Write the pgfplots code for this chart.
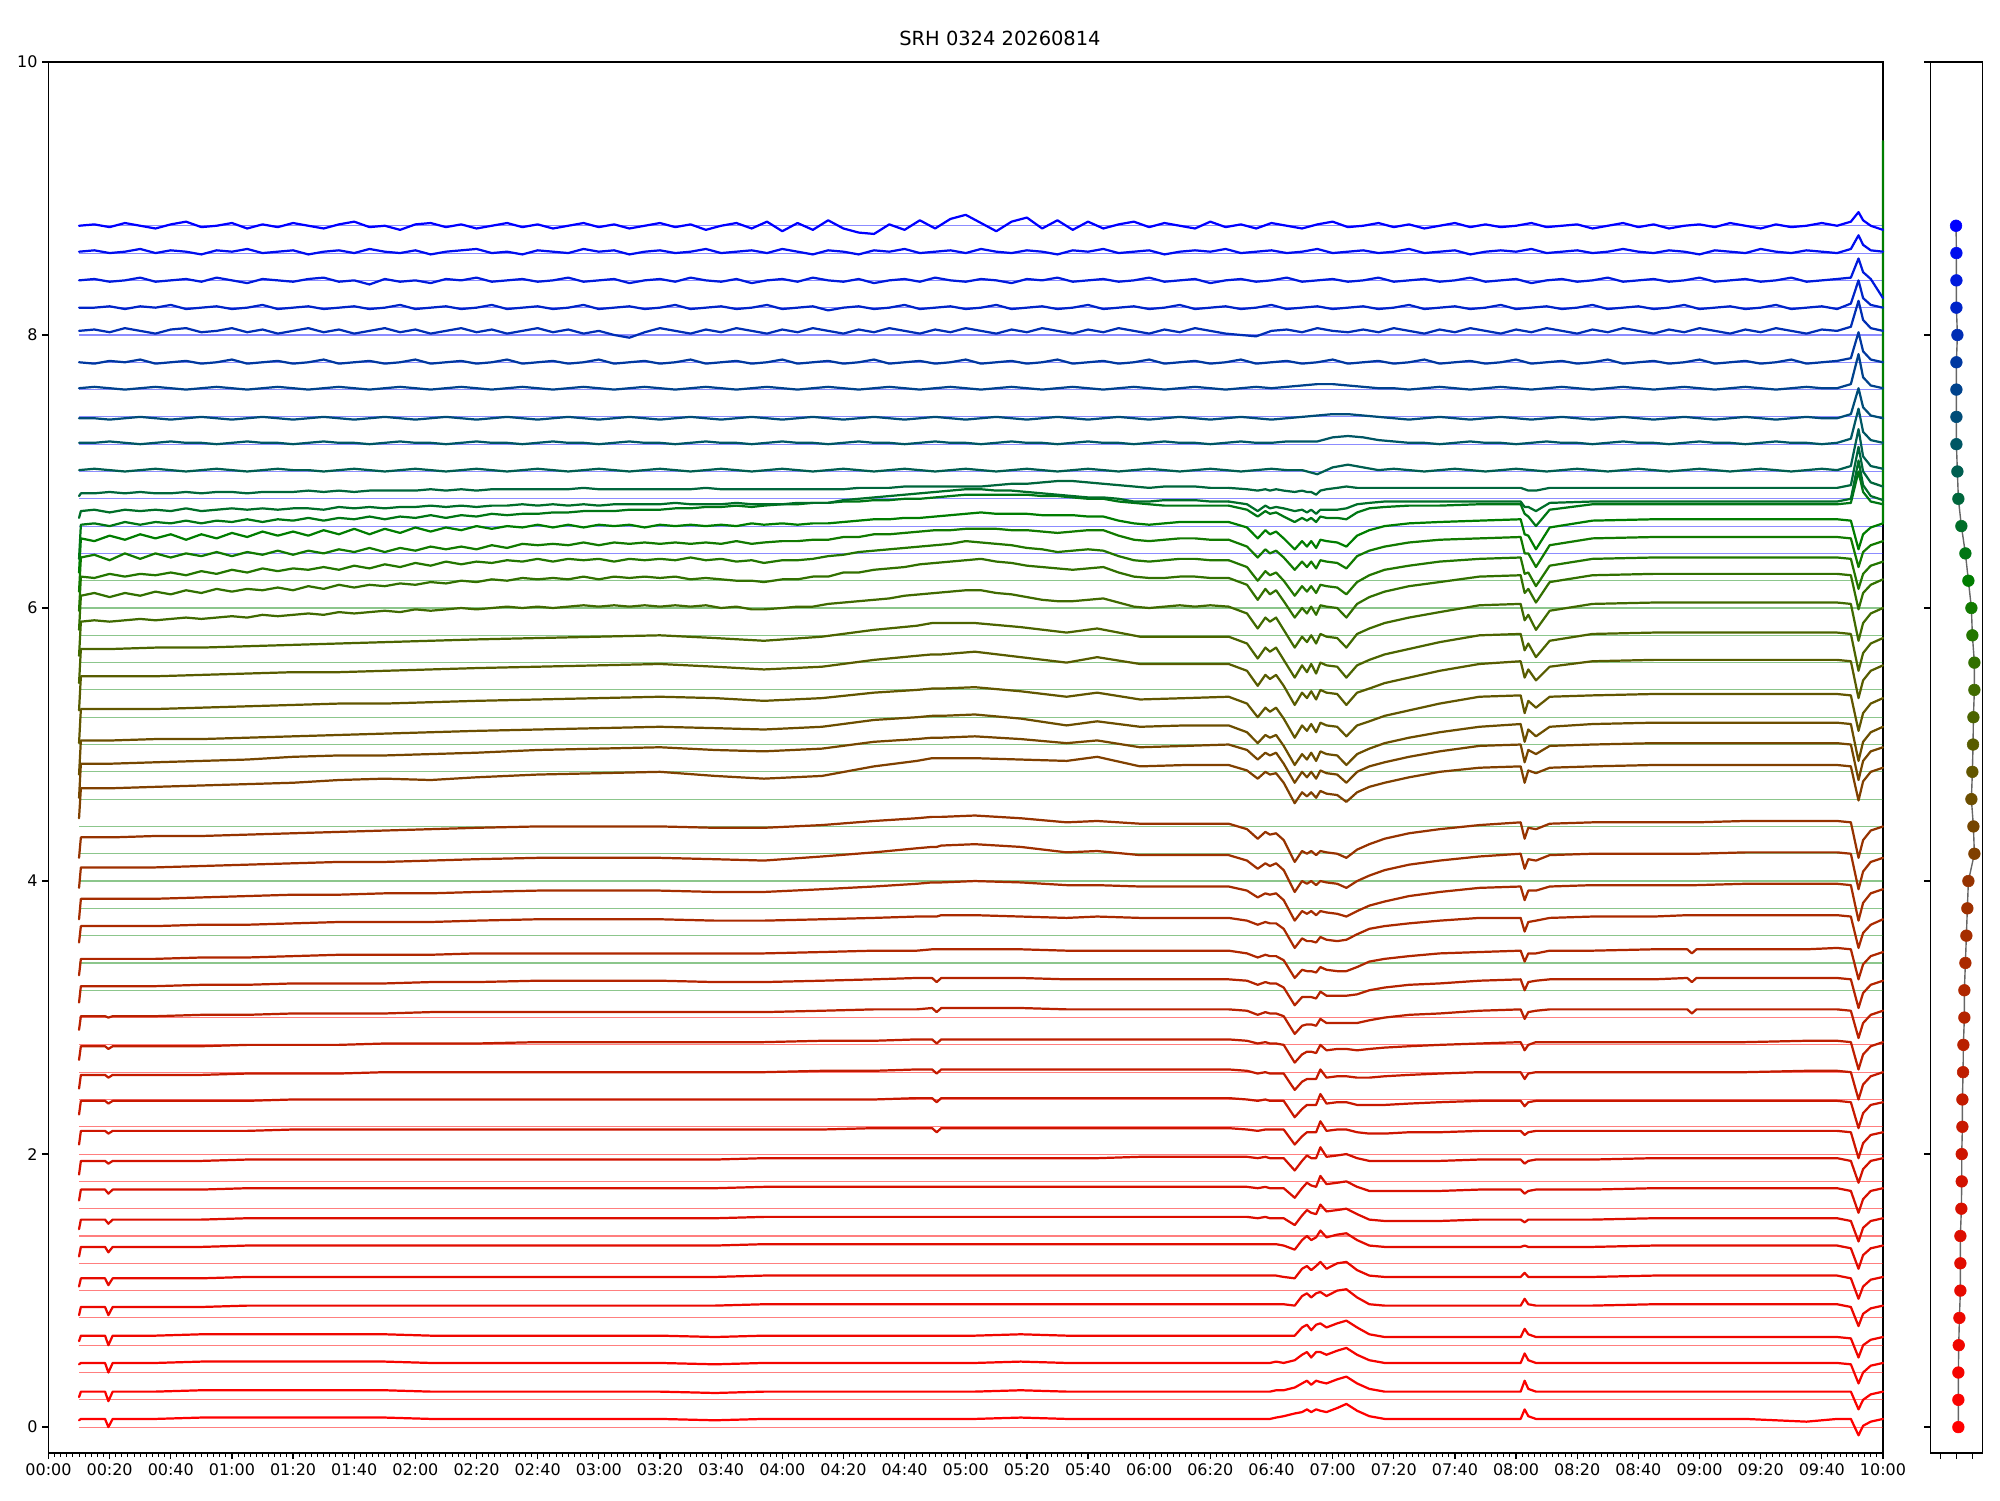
\documentclass[border=0pt]{standalone}
\usepackage{fontspec}
\setmainfont{DejaVu Sans}
\usepackage{pgfplots}
\usepackage{pgfplotstable}
\pgfplotsset{compat=1.18}
\definecolor{c0}{RGB}{255,0,0}\definecolor{c1}{RGB}{250,2,0}\definecolor{c2}{RGB}{245,4,0}
\definecolor{c3}{RGB}{240,6,0}\definecolor{c4}{RGB}{235,8,0}\definecolor{c5}{RGB}{230,10,0}
\definecolor{c6}{RGB}{225,12,0}\definecolor{c7}{RGB}{220,14,0}\definecolor{c8}{RGB}{215,16,0}
\definecolor{c9}{RGB}{210,18,0}\definecolor{c10}{RGB}{205,21,0}\definecolor{c11}{RGB}{200,24,0}
\definecolor{c12}{RGB}{195,27,0}\definecolor{c13}{RGB}{190,30,0}\definecolor{c14}{RGB}{185,33,0}
\definecolor{c15}{RGB}{180,36,0}\definecolor{c16}{RGB}{175,39,0}\definecolor{c17}{RGB}{170,42,0}
\definecolor{c18}{RGB}{165,45,0}\definecolor{c19}{RGB}{158,48,0}\definecolor{c20}{RGB}{150,51,0}
\definecolor{c21}{RGB}{128,64,0}\definecolor{c22}{RGB}{118,70,0}\definecolor{c23}{RGB}{108,78,0}
\definecolor{c24}{RGB}{98,86,0}\definecolor{c25}{RGB}{88,92,0}\definecolor{c26}{RGB}{76,100,0}
\definecolor{c27}{RGB}{64,106,0}\definecolor{c28}{RGB}{50,112,0}\definecolor{c29}{RGB}{35,118,0}
\definecolor{c30}{RGB}{18,122,0}\definecolor{c31}{RGB}{0,125,0}\definecolor{c32}{RGB}{0,118,20}
\definecolor{c33}{RGB}{0,110,40}\definecolor{c34}{RGB}{0,102,60}\definecolor{c35}{RGB}{0,94,80}
\definecolor{c36}{RGB}{0,86,100}\definecolor{c37}{RGB}{0,76,120}\definecolor{c38}{RGB}{0,66,140}
\definecolor{c39}{RGB}{0,56,160}\definecolor{c40}{RGB}{0,46,180}\definecolor{c41}{RGB}{0,36,200}
\definecolor{c42}{RGB}{0,26,220}\definecolor{c43}{RGB}{0,14,238}\definecolor{c44}{RGB}{0,0,255}
\definecolor{bgreen}{RGB}{0,128,0}

% offsets (hundredths) of each trace from its starting value
\pgfplotstableread{
t c0 c1 c2 c3 c4 c5 c6 c7 c8 c9 c10 c11 c12 c13 c14 c15 c16 c17 c18 c19 c20 c21 c22 c23 c24 c25 c26 c27 c28 c29 c30 c31 c32 c33 c34
10 -1 -4 -1 -4 -6 -6 -7 -7 -8 -10 -10 -10 -10 -10 -10 -12 -12 -12 -15 -15 -15 -22 -25 -25 -25 -25 -25 -25 -25 -25 -25 -25 -25 -5 -2
10.6 0 0 0 0 0 0 0 0 0 0 0 0 0 0 0 0 0 0 0 0 0 0 0 0 0 0 0 0 0 0 0 0 0 0 0
18.5 0 0 0 0 0 0 0 0 0 0 0 0 0 0 0 0 0 0 0 0 0 0 0 0 0 0 0 0 1 1 1 1 0 0 0
19.6 -6 -7 -7 -7 -6 -5 -4 -3 -3 -2 -2 -2 -2 -2 -1 0 0 0 0 0 0 0 0 0 0 0 0 0 0 -1 0 0 0 0 0
21 0 0 0 0 0 0 0 0 0 0 0 0 0 0 0 0 0 0 0 0 0 0 0 0 0 0 0 0 -1 0 -1 0 1 0 0
35 0 0 0 0 0 0 0 0 0 0 0 0 0 0 0 0 0 0 0 0 1 1 1 1 0 0 1 2 2 1 2 1 1 1 0
50 1 1 1 1 0 0 0 0 0 0 0 0 0 0 1 1 1 1 1 1 1 2 2 1 1 1 1 1 1 3 1 2 2 0 1
65 1 1 1 1 1 1 1 1 1 1 0 0 1 1 1 1 1 1 2 2 2 3 3 2 2 2 2 4 4 2 3 1 3 2 0
80 1 1 1 1 1 1 1 1 1 1 1 1 1 1 2 2 2 2 3 3 3 4 5 3 3 3 3 3 3 5 2 3 2 1 1
95 1 1 1 1 1 1 1 1 1 1 1 1 1 1 2 2 3 3 3 4 4 6 6 4 4 3 4 6 6 4 4 4 4 2 2
110 1 1 1 1 1 1 1 1 1 1 1 1 2 2 2 2 3 3 4 4 5 7 6 5 4 4 5 5 8 7 6 3 5 3 1
125 0 0 0 0 1 1 1 1 1 1 1 1 2 2 3 3 3 3 4 5 6 6 7 6 5 5 6 8 7 9 5 6 4 2 2
140 0 0 0 0 1 1 1 1 1 1 1 1 2 2 3 3 4 4 5 6 7 8 8 7 6 6 7 7 10 8 7 7 7 3 2
160 0 0 0 0 1 1 1 1 1 1 1 1 2 3 3 4 4 5 6 7 8 10 10 8 7 7 8 10 12 12 9 9 8 4 3
180 0 0 0 0 1 1 1 1 1 1 1 1 2 3 3 4 4 5 6 7 8 11 11 9 8 8 9 11 12 13 10 9 10 4 3
200 0 0 0 0 1 1 1 1 1 1 1 1 2 3 3 4 4 5 6 7 8 12 12 10 9 9 10 10 14 12 11 10 11 5 3
218 -1 -1 -1 -1 1 1 1 1 1 1 1 1 2 3 3 3 4 4 5 6 7 9 10 9 8 7 8 12 12 14 9 8 12 4 3
234 0 0 0 0 2 2 2 2 2 2 1 1 2 3 3 3 4 4 5 5 7 7 9 8 6 5 6 9 10 10 11 10 14 5 3
253 0 0 0 0 2 2 2 2 2 2 1 1 3 4 4 4 5 5 7 8 9 9 11 10 8 7 9 12 14 14 13 11 16 6 3
270 0 0 0 0 2 2 2 2 2 2 2 1 3 4 5 5 6 6 9 11 12 16 16 15 12 12 14 16 19 19 17 14 18 10 4
284 0 0 0 0 2 2 2 2 2 2 2 2 4 5 5 6 6 7 11 14 14 20 18 17 14 15 17 20 22 22 19 15 19 13 5
289 0 0 0 0 2 2 2 2 2 2 2 2 4 5 6 6 7 7 12 15 15 22 19 18 15 16 19 21 24 23 20 16 20 14 5
290.5 0 0 0 0 2 2 2 2 2 2 -1 -1 1 2 3 3 7 7 12 15 15 22 19 18 15 16 19 21 24 23 20 16 20 14 5
292 0 0 0 0 2 2 2 2 2 2 2 2 4 5 6 6 7 8 12 16 15 22 19 18 15 16 19 22 25 24 21 17 21 15 5
303 0 0 0 0 2 2 2 2 2 2 2 2 4 5 6 6 7 8 13 17 16 22 20 19 16 18 19 23 27 26 21 19 22 16 5
318 1 1 1 1 2 2 2 2 2 2 2 2 4 5 6 6 7 7 12 15 14 21 18 16 13 14 16 19 23 22 20 18 22 15 7
333 0 0 0 0 2 2 2 2 2 2 2 2 4 5 5 5 6 6 10 11 11 20 15 11 9 10 12 14 19 18 18 17 21 12 9
343 0 0 0 0 2 2 2 2 2 2 2 2 4 5 5 5 6 7 10 12 12 23 17 14 12 14 15 17 21 20 20 16 19 10 7
357 0 0 0 0 2 2 2 2 2 3 2 2 4 5 5 5 6 6 9 9 10 16 12 10 7 9 9 10 13 11 12 10 15 7 4
372 0 0 0 0 2 2 2 2 2 3 2 2 4 5 5 5 6 6 9 9 10 17 13 11 8 9 9 12 14 13 14 12 14 8 5
386 0 0 0 0 2 2 2 2 2 3 2 2 4 5 5 5 6 6 9 9 10 17 14 11 9 9 9 11 13 12 13 12 14 7 4
392 0 0 0 0 2 2 2 2 2 3 1 1 3 4 4 4 4 4 6 5 6 13 10 6 4 4 4 6 8 7 8 8 11 5 3
395.5 0 0 0 0 2 2 2 1 1 2 0 0 1 2 1 1 1 1 1 -1 -1 7 3 -2 -6 -7 -7 -5 -3 -3 0 0 6 0 2
398 0 0 0 0 2 2 2 2 2 3 1 1 2 3 3 3 3 3 4 3 4 12 8 4 1 1 1 3 5 4 6 6 10 4 3
399.5 0 0 0 0 2 2 2 1 1 2 1 0 1 2 2 2 2 2 3 1 2 10 6 2 -2 -2 -2 0 1 1 3 3 8 2 2
401.5 1 1 1 0 2 2 2 1 1 2 1 0 1 2 2 2 2 2 4 3 3 11 8 4 1 1 1 3 4 3 5 5 9 3 3
404 2 1 0 0 2 1 1 1 1 2 1 0 1 1 0 -1 -1 -2 -1 -2 -2 4 0 -4 -7 -7 -8 -6 -4 -3 0 0 6 2 2
407.6 4 3 2 0 1 0 -2 -4 -6 -7 -10 -12 -11 -12 -13 -14 -14 -16 -16 -18 -18 -11 -14 -18 -21 -21 -21 -19 -16 -14 -9 -8 2 0 1
410 5 6 6 6 8 7 5 3 1 0 -4 -6 -5 -6 -7 -8 -8 -9 -9 -10 -10 -3 -6 -10 -12 -12 -12 -11 -9 -7 -3 -2 5 1 2
411.6 7 8 8 8 10 9 8 7 5 4 -1 -3 -3 -4 -6 -8 -9 -11 -11 -12 -12 -6 -10 -14 -16 -16 -17 -15 -13 -11 -7 -6 3 -1 1
413 5 5 4 4 7 6 5 5 3 2 -1 -3 -3 -4 -6 -8 -9 -11 -9 -10 -10 -3 -6 -9 -11 -11 -11 -10 -8 -7 -3 -2 5 1 1
414.6 7 8 8 8 10 9 7 4 2 2 -1 -3 -3 -5 -7 -9 -10 -12 -12 -13 -13 -7 -11 -15 -17 -17 -18 -16 -14 -12 -8 -7 2 -2 -1
416 6 7 8 9 11 12 12 11 10 10 7 5 4 1 -2 -4 -6 -8 -9 -10 -10 -2 -5 -8 -10 -10 -10 -9 -7 -6 -2 -1 6 1 2
418 5 6 6 6 8 7 7 6 4 3 0 -2 -2 -3 -5 -7 -8 -10 -10 -11 -11 -4 -7 -10 -12 -12 -12 -11 -8 -7 -3 -2 5 1 3
421.5 8 9 9 9 12 11 9 7 5 4 1 -1 -1 -2 -5 -7 -9 -11 -11 -12 -12 -5 -8 -11 -13 -13 -13 -12 -9 -8 -4 -3 5 1 4
424.5 11 11 11 11 13 12 10 8 6 5 1 -1 -1 -2 -5 -7 -9 -10 -13 -15 -15 -10 -14 -18 -20 -21 -21 -19 -16 -13 -8 -6 4 2 5
428 6 6 6 6 7 6 5 4 2 2 -1 -3 -2 -3 -5 -6 -6 -6 -9 -10 -9 -3 -6 -10 -12 -12 -12 -9 -6 -4 1 2 9 5 4
432 2 2 2 1 2 2 1 0 -1 0 -2 -3 -2 -2 -3 -3 -2 -2 -5 -6 -5 1 -2 -6 -9 -9 -8 -5 -1 1 5 6 12 6 4
437 0 0 0 -1 1 1 0 -1 -1 0 -2 -3 -1 -1 -1 -1 0 0 -2 -2 -1 4 1 -2 -5 -5 -4 -1 3 5 8 9 13 7 4
445 0 0 0 -1 1 1 0 -1 -1 0 -1 -2 0 0 1 1 2 2 2 2 3 8 5 2 -1 -1 0 3 7 8 11 11 14 7 4
455 0 0 0 -1 1 1 0 -1 -1 0 -1 -1 1 1 2 2 4 4 5 5 6 12 9 6 4 4 5 7 10 11 13 12 14 7 4
468 0 0 0 -1 1 1 0 0 0 1 0 0 2 2 4 4 5 6 8 8 9 15 13 10 9 9 10 12 14 13 14 13 15 7 4
481.5 0 0 0 -1 1 1 0 0 0 1 0 0 2 3 5 5 6 6 9 10 11 16 14 12 10 11 11 13 15 14 15 14 15 7 4
482.8 7 8 7 5 6 4 1 -2 -3 -2 -3 -4 -3 -3 -2 -3 -2 -4 -1 -1 -1 4 1 -1 -3 -1 -1 1 2 2 3 3 8 3 3
484 2 2 2 1 2 1 0 0 -1 0 -1 -1 1 1 3 3 4 3 6 6 7 13 10 8 6 5 4 5 5 3 3 2 6 3 2
486.5 0 0 0 -1 1 1 0 0 0 1 0 0 2 3 4 4 4 4 6 5 6 11 7 3 1 -3 -6 -6 -5 -7 -7 -8 -1 0 2
491 0 0 0 -1 1 1 0 0 0 1 0 0 2 3 5 5 6 6 9 9 10 15 13 10 9 7 6 8 10 8 9 8 11 6 4
505 0 0 0 -1 1 1 0 0 0 1 0 0 2 3 5 5 6 7 10 10 11 16 14 12 10 11 11 13 15 13 14 13 15 7 4
525 0 0 0 -1 2 2 1 1 1 2 0 0 2 3 5 5 7 7 10 10 11 17 15 13 11 12 12 14 16 14 15 14 15 7 4
536 0 0 0 -1 2 2 1 1 1 2 0 0 2 3 5 6 7 8 10 10 11 17 15 13 11 12 12 14 16 14 15 14 15 7 4
537.5 0 0 0 -1 2 2 1 1 1 2 0 0 2 3 2 3 4 8 10 10 11 17 15 13 11 12 12 14 16 14 15 14 15 7 4
539 0 0 0 -1 2 2 1 1 1 2 0 0 2 3 5 6 7 8 10 10 11 17 15 13 11 12 12 14 16 14 15 14 15 7 4
555 0 0 0 -1 2 2 1 1 1 2 0 0 2 3 5 6 7 8 11 11 12 17 15 13 11 12 12 14 16 14 15 14 15 7 4
575 -2 0 0 -1 2 2 1 1 1 2 0 0 3 4 5 6 7 8 11 11 12 17 15 13 11 12 12 14 16 14 15 14 15 7 4
585 0 0 0 -1 2 2 1 1 1 2 0 0 3 4 5 6 8 8 11 11 12 17 15 13 11 12 12 14 16 14 15 14 15 7 4
589.5 0 0 -1 -2 0 0 -1 -1 -1 0 -1 -1 2 3 4 5 7 7 10 10 11 16 14 12 10 11 11 13 15 13 14 13 16 9 6
592 -12 -13 -15 -16 -14 -15 -16 -16 -17 -16 -20 -20 -18 -17 -16 -16 -15 -16 -16 -16 -15 -9 -12 -15 -16 -16 -16 -14 -10 -9 -7 -8 39 37 34
593.5 -5 -6 -7 -7 -5 -6 -6 -6 -7 -6 -9 -9 -7 -6 -5 -5 -4 -5 -3 -3 -2 5 2 -1 -3 -3 -3 -1 2 2 4 3 24 19 16
596 -2 -2 -2 -3 -1 -1 -1 -1 -1 0 -3 -3 -1 0 1 1 2 1 4 4 5 12 9 6 4 4 4 6 8 8 9 8 17 11 8
600 0 0 0 -1 1 1 1 1 1 2 -1 -1 2 3 4 4 5 5 7 7 8 15 12 10 8 8 8 10 12 11 12 11 15 8 5
600 0 0 0 -1 1 1 1 1 1 2 -1 -1 2 3 4 4 5 5 7 7 8 15 12 10 8 8 8 10 12 11 12 291 15 8 5
}\Tlow

% finer early part (00:10-06:26) of the wiggly green traces
\pgfplotstableread{
t c27 c28 c29 c30 c31 c32 c33 c34
10 -25 -25 -25 -25 -25 -25 -5 -2
10.6 0 0 0 0 0 0 0 0
15 1 2 -1 2 -2 1 1 0
20 0 -1 2 -2 2 -1 -1 1
25 1 2 0 3 -1 2 1 0
30 2 0 2 -1 3 0 0 1
35 1 3 1 3 0 2 1 0
40 2 1 3 0 3 1 0 0
45 3 4 1 3 -1 3 2 1
50 2 2 4 1 3 1 0 0
55 3 5 2 4 0 3 1 1
60 4 3 5 1 4 2 2 1
65 3 5 3 4 1 4 1 0
70 5 4 6 2 5 2 2 1
75 4 6 4 5 2 4 1 1
80 5 4 6 2 5 3 2 1
85 6 7 5 5 2 5 2 2
90 5 5 7 3 6 3 1 1
95 7 8 5 6 3 5 3 2
100 6 6 8 4 7 4 2 1
105 7 8 6 7 3 6 3 2
110 8 7 9 4 7 4 2 2
115 7 9 7 7 4 6 3 2
120 9 8 10 5 8 5 3 2
125 8 10 8 8 5 7 4 3
130 9 9 11 6 8 5 3 2
135 10 11 9 8 6 7 4 3
140 9 10 11 6 9 6 3 2
145 10 12 10 9 7 8 4 3
150 11 11 12 7 9 7 4 3
155 10 13 11 10 8 8 5 3
160 11 12 13 9 10 8 4 3
165 10 13 11 10 8 9 5 3
170 11 12 13 9 10 9 4 3
175 12 14 12 11 8 10 5 4
180 11 12 13 9 10 10 4 3
185 12 14 11 11 9 10 5 3
190 11 13 13 10 10 11 5 3
195 12 14 12 11 8 11 5 3
200 11 13 13 10 10 11 5 3
205 12 14 12 11 9 12 6 3
210 11 12 14 10 10 12 5 3
215 12 13 12 11 9 13 5 4
220 10 12 13 10 10 13 5 3
225 11 11 11 12 9 14 6 3
230 9 11 12 10 11 13 5 3
234 9 10 10 11 10 14 5 3
240 10 12 12 12 11 15 5 3
245 11 12 12 12 10 15 6 3
250 11 14 13 13 11 16 6 3
255 13 14 15 13 11 16 6 3
260 14 17 16 15 12 17 8 3
265 15 17 18 15 13 17 9 4
270 16 19 19 17 14 18 10 4
275 17 20 20 17 14 18 11 4
280 19 21 21 18 15 19 12 5
285 20 23 22 19 15 19 13 5
290 21 24 23 20 16 20 14 5
295 22 25 24 20 17 21 15 5
300 23 26 26 21 18 22 16 5
305 23 27 25 21 19 22 16 5
310 21 25 24 21 18 22 15 6
315 20 24 23 20 18 22 15 7
320 18 22 21 20 18 22 14 7
325 16 21 20 19 17 21 13 8
330 15 20 18 18 17 21 12 9
335 15 19 19 19 17 20 11 9
340 16 20 20 20 16 19 10 8
345 17 21 19 20 16 19 10 7
350 14 17 15 16 13 17 9 6
355 11 14 12 13 11 16 7 5
360 10 13 11 12 10 15 7 4
365 11 13 12 13 11 14 8 5
370 12 14 13 14 12 14 8 5
375 11 14 13 14 12 14 8 5
380 12 13 12 13 12 14 7 4
386 11 13 12 13 12 14 7 4
}\Tg

\pgfplotstableread{
t c35 c36 c37 c38 c39 c40 c41 c42 c43 c44
10 0 0 0 0 0 0 0 0 0 0
15 1 0 0 1 -1 1 0 1 1 1
20 0 1 -1 0 1 -1 1 -1 -1 -1
25 -1 0 0 -1 0 2 -1 0 0 2
30 0 -1 1 0 2 0 1 2 2 0
35 1 0 0 1 -1 -2 0 -1 -1 -2
40 0 1 -1 0 0 1 2 0 1 1
45 -1 0 0 -1 1 2 -1 1 0 3
50 0 0 1 0 -1 -1 0 -1 -2 -1
55 1 -1 0 1 0 0 1 2 1 0
60 0 0 -1 0 2 2 -1 0 0 2
65 -1 1 0 -1 -1 -1 0 -2 2 -2
70 0 0 1 0 0 1 2 1 -1 1
75 1 0 0 1 1 -2 -1 0 0 -1
80 0 -1 -1 0 -1 0 0 -1 1 2
85 0 0 0 -1 0 2 1 1 -2 0
90 -1 1 1 0 2 -1 -1 2 0 -2
95 0 0 0 1 -1 1 0 -1 1 1
100 1 0 -1 0 0 -2 1 0 -1 3
105 0 -1 0 -1 1 0 -1 -3 2 -1
110 -1 0 1 0 -1 2 0 1 0 0
115 0 1 0 1 0 -1 2 -1 -1 -3
120 1 0 -1 0 2 1 -1 0 1 1
125 0 0 0 -1 -1 -2 0 -2 -2 2
130 -1 -1 1 0 0 0 1 1 0 -1
135 0 0 0 1 1 2 -1 0 1 1
140 1 1 -1 0 -1 -1 0 2 2 -2
145 0 0 0 -1 0 1 2 -1 -1 0
150 -1 0 1 0 2 -2 -1 0 0 2
155 0 -1 0 1 -1 0 0 1 -2 -1
160 1 0 -1 0 0 2 1 -1 1 1
165 0 1 0 -1 1 -1 -1 0 0 -2
170 -1 0 1 0 -1 1 0 2 -1 0
175 0 0 0 1 0 -2 2 -1 2 2
180 1 -1 -1 0 2 0 -1 0 0 -1
185 0 0 0 -1 -1 -3 0 1 1 1
190 -1 1 1 0 0 -5 1 -2 -2 -2
195 0 0 0 1 1 -1 -1 0 0 0
200 1 0 -1 0 -1 2 0 1 1 2
205 0 -1 0 -1 0 0 2 -1 -1 -1
210 -1 0 1 0 2 -2 -1 2 0 1
215 0 1 0 1 -1 1 0 0 2 -3
220 1 0 -1 0 0 -1 1 -1 -1 0
225 0 0 0 -1 1 2 -1 1 0 2
230 -1 -1 1 0 -1 0 0 -2 1 -2
235 0 0 0 1 0 -2 2 0 -1 3
240 1 1 -1 0 2 1 -1 1 2 -4
245 0 0 0 -1 -1 -1 0 -1 0 2
250 -1 0 1 0 0 2 1 2 -2 -3
255 0 -1 0 1 1 0 -2 0 1 4
260 1 0 -1 0 -1 -2 0 -1 0 -2
265 0 1 0 -1 0 1 1 1 -2 -5
270 -1 0 1 0 2 -1 -1 -2 1 -6
275 0 0 0 1 -1 2 0 0 0 1
280 1 -1 -1 0 0 0 2 1 2 -3
285 0 0 0 -1 1 -2 -1 -1 -1 4
290 -1 1 1 0 -1 1 0 2 0 -2
295 0 0 0 1 0 -1 1 0 1 5
300 1 0 -1 0 2 2 -1 -1 -1 8
305 0 -1 0 -1 -1 0 0 1 2 2
310 -1 0 1 0 0 -2 2 0 0 -4
315 0 1 0 1 1 1 -1 -2 -1 3
320 1 0 -1 0 -1 -1 0 1 1 6
325 0 0 0 -1 0 2 1 0 0 -2
330 -1 -1 1 0 2 0 -1 2 -2 4
335 0 0 0 1 -1 -2 0 -1 1 -3
340 1 1 -1 0 0 1 2 0 0 3
345 0 0 0 -1 1 -1 -1 1 2 -2
350 -1 0 1 0 -1 2 0 -1 -1 1
355 0 -1 0 1 0 0 1 0 0 3
360 1 0 -1 0 2 -2 -1 2 1 -1
365 0 1 0 -1 -1 1 0 -1 -2 2
370 -1 0 1 0 0 -1 2 0 0 0
375 0 0 0 1 1 2 -1 1 1 -2
380 1 -1 -1 0 -1 0 0 -2 0 3
385 0 0 0 -1 0 -2 1 0 2 -1
390 -1 1 1 0 2 -3 -1 1 -1 1
395 0 0 0 1 -1 -4 0 -1 0 -2
400 1 0 -1 0 0 0 2 0 1 2
405 0 1 0 1 1 1 -1 2 -1 0
410 0 1 1 2 -1 -1 0 -1 0 -2
415 -3 1 2 3 0 2 1 0 2 1
420 2 4 3 3 2 0 -1 1 -1 3
425 4 5 3 2 -1 -1 0 -1 0 -1
430 2 4 2 1 0 1 1 0 1 0
435 0 2 1 0 1 -1 -1 2 -1 2
440 1 1 0 0 -1 2 0 -1 0 -1
445 0 0 -1 -1 0 0 2 0 2 1
450 -1 0 0 0 2 -2 -1 1 -1 -2
455 0 -1 1 1 -1 1 0 -1 0 0
460 1 0 0 0 0 -1 1 0 1 2
465 0 1 -1 -1 1 2 -1 2 -2 -1
470 -1 0 0 0 -1 0 0 -1 0 1
475 0 0 1 1 0 -2 2 0 1 -1
480 1 -1 0 0 2 1 -1 1 0 0
485 0 0 -1 -1 -1 -1 0 -2 2 2
490 -1 1 0 0 0 2 1 0 -1 -1
495 0 0 1 1 1 0 -1 1 0 0
500 1 0 0 0 -1 -2 0 -1 1 1
505 0 -1 -1 -1 0 1 2 0 -1 -2
510 -1 0 0 0 2 -1 -1 2 0 0
515 0 1 1 1 -1 2 0 -1 2 2
520 1 0 0 0 0 0 1 0 0 -1
525 0 0 -1 -1 1 -2 -1 1 -1 1
530 -1 -1 0 0 -1 1 0 -1 1 -2
535 0 0 1 1 0 -1 2 0 0 0
540 1 1 0 0 2 2 -1 2 -2 1
545 0 0 -1 -1 -1 0 0 -1 1 -1
550 -1 0 0 0 0 -2 1 0 0 2
555 0 -1 1 1 1 1 -1 1 -1 0
560 1 0 0 0 -1 -1 0 -1 2 -2
565 0 1 -1 -1 0 2 2 0 0 1
570 -1 0 0 0 2 0 -1 2 -1 -1
575 0 0 1 1 -1 -2 0 -1 1 0
580 1 -1 0 0 0 1 1 0 0 2
585 0 0 0 0 1 0 -1 1 -1 0
589.5 3 3 3 3 3 3 3 2 2 3
592 30 25 22 25 22 22 20 16 12 10
593.5 10 8 8 8 8 8 7 6 5 4
596 3 2 2 2 2 2 2 1 1 0
600 1 0 0 0 0 0 0 -13 0 -3
}\Ttop

\begin{document}
\begin{tikzpicture}[x=1pt,y=1pt]
\path[use as bounding box] (0,0) rectangle (1440,1080);
\node[font=\fontsize{14}{16}\selectfont, inner sep=0pt] at (720,1052.3) {SRH 0324 20260814};
\begin{axis}[
  at={(34.9pt,33.8pt)}, anchor=south west,
  width=1320.9pt, height=1001.6pt, scale only axis,
  xmin=0, xmax=600, ymin=-0.19, ymax=10,
  xtick={0,20,...,600},
  xticklabels={00:00,00:20,00:40,01:00,01:20,01:40,02:00,02:20,02:40,03:00,03:20,03:40,04:00,04:20,04:40,05:00,05:20,05:40,06:00,06:20,06:40,07:00,07:20,07:40,08:00,08:20,08:40,09:00,09:20,09:40,10:00},
  minor x tick num=9,
  ytick={0,2,4,6,8,10},
  tick align=outside, xtick pos=left, ytick pos=left,
  major tick length=4.4pt, minor tick length=2.5pt,
  major tick style={black, line width=0.9pt},
  minor tick style={black, line width=0.7pt},
  axis line style={line width=0.9pt},
  tick label style={font=\fontsize{11.5}{13}\selectfont},
  /pgf/number format/assume math mode=true,
  clip=false,
  baser/.style={draw=red, opacity=0.5, line width=0.8pt},
  baseg/.style={draw=bgreen, opacity=0.45, line width=0.8pt},
  baseb/.style={draw=blue, opacity=0.45, line width=0.8pt},
  tr/.style={line width=1.6pt, line join=round, line cap=round},
  late/.style={restrict x to domain=386:600},
]
\pgfplotsinvokeforeach{0,0.2,0.4,0.6,0.8,1.0,1.2,1.4,1.6,1.8,2.0,2.2,2.4,2.6,2.8,3.0}{\addplot[baser] coordinates {(10,#1) (600,#1)};}
\pgfplotsinvokeforeach{3.2,3.4,3.6,3.8,4.0,4.2,4.4,4.6,4.8,5.0,5.2,5.4,5.6,5.8,6.0,6.2}{\addplot[baseg] coordinates {(10,#1) (600,#1)};}
\pgfplotsinvokeforeach{6.4,6.6,6.8,7.0,7.2,7.4,7.6,7.8,8.0,8.2,8.4,8.6,8.8}{\addplot[baseb] coordinates {(10,#1) (600,#1)};}

\addplot[tr,c0] table[x=t,y expr=\thisrow{c0}/100+0.06]{\Tlow};
\addplot[tr,c1] table[x=t,y expr=\thisrow{c1}/100+0.26]{\Tlow};
\addplot[tr,c2] table[x=t,y expr=\thisrow{c2}/100+0.47]{\Tlow};
\addplot[tr,c3] table[x=t,y expr=\thisrow{c3}/100+0.67]{\Tlow};
\addplot[tr,c4] table[x=t,y expr=\thisrow{c4}/100+0.88]{\Tlow};
\addplot[tr,c5] table[x=t,y expr=\thisrow{c5}/100+1.09]{\Tlow};
\addplot[tr,c6] table[x=t,y expr=\thisrow{c6}/100+1.32]{\Tlow};
\addplot[tr,c7] table[x=t,y expr=\thisrow{c7}/100+1.52]{\Tlow};
\addplot[tr,c8] table[x=t,y expr=\thisrow{c8}/100+1.74]{\Tlow};
\addplot[tr,c9] table[x=t,y expr=\thisrow{c9}/100+1.95]{\Tlow};
\addplot[tr,c10] table[x=t,y expr=\thisrow{c10}/100+2.17]{\Tlow};
\addplot[tr,c11] table[x=t,y expr=\thisrow{c11}/100+2.39]{\Tlow};
\addplot[tr,c12] table[x=t,y expr=\thisrow{c12}/100+2.58]{\Tlow};
\addplot[tr,c13] table[x=t,y expr=\thisrow{c13}/100+2.79]{\Tlow};
\addplot[tr,c14] table[x=t,y expr=\thisrow{c14}/100+3.01]{\Tlow};
\addplot[tr,c15] table[x=t,y expr=\thisrow{c15}/100+3.23]{\Tlow};
\addplot[tr,c16] table[x=t,y expr=\thisrow{c16}/100+3.43]{\Tlow};
\addplot[tr,c17] table[x=t,y expr=\thisrow{c17}/100+3.67]{\Tlow};
\addplot[tr,c18] table[x=t,y expr=\thisrow{c18}/100+3.87]{\Tlow};
\addplot[tr,c19] table[x=t,y expr=\thisrow{c19}/100+4.10]{\Tlow};
\addplot[tr,c20] table[x=t,y expr=\thisrow{c20}/100+4.32]{\Tlow};
\addplot[tr,c21] table[x=t,y expr=\thisrow{c21}/100+4.68]{\Tlow};
\addplot[tr,c22] table[x=t,y expr=\thisrow{c22}/100+4.86]{\Tlow};
\addplot[tr,c23] table[x=t,y expr=\thisrow{c23}/100+5.03]{\Tlow};
\addplot[tr,c24] table[x=t,y expr=\thisrow{c24}/100+5.26]{\Tlow};
\addplot[tr,c25] table[x=t,y expr=\thisrow{c25}/100+5.50]{\Tlow};
\addplot[tr,c26] table[x=t,y expr=\thisrow{c26}/100+5.70]{\Tlow};
\addplot[tr,c27] table[x=t,y expr=\thisrow{c27}/100+5.90]{\Tg};
\addplot[tr,c27,late] table[x=t,y expr=\thisrow{c27}/100+5.90]{\Tlow};
\addplot[tr,c28] table[x=t,y expr=\thisrow{c28}/100+6.09]{\Tg};
\addplot[tr,c28,late] table[x=t,y expr=\thisrow{c28}/100+6.09]{\Tlow};
\addplot[tr,c29] table[x=t,y expr=\thisrow{c29}/100+6.23]{\Tg};
\addplot[tr,c29,late] table[x=t,y expr=\thisrow{c29}/100+6.23]{\Tlow};
\addplot[tr,c30] table[x=t,y expr=\thisrow{c30}/100+6.37]{\Tg};
\addplot[tr,c30,late] table[x=t,y expr=\thisrow{c30}/100+6.37]{\Tlow};
\addplot[tr,c31] table[x=t,y expr=\thisrow{c31}/100+6.51]{\Tg};
\addplot[tr,c31,late] table[x=t,y expr=\thisrow{c31}/100+6.51]{\Tlow};
\addplot[tr,c32] table[x=t,y expr=\thisrow{c32}/100+6.61]{\Tg};
\addplot[tr,c32,late] table[x=t,y expr=\thisrow{c32}/100+6.61]{\Tlow};
\addplot[tr,c33] table[x=t,y expr=\thisrow{c33}/100+6.71]{\Tg};
\addplot[tr,c33,late] table[x=t,y expr=\thisrow{c33}/100+6.71]{\Tlow};
\addplot[tr,c34] table[x=t,y expr=\thisrow{c34}/100+6.84]{\Tg};
\addplot[tr,c34,late] table[x=t,y expr=\thisrow{c34}/100+6.84]{\Tlow};
\addplot[tr,c35] table[x=t,y expr=\thisrow{c35}/100+7.01]{\Ttop};
\addplot[tr,c36] table[x=t,y expr=\thisrow{c36}/100+7.21]{\Ttop};
\addplot[tr,c37] table[x=t,y expr=\thisrow{c37}/100+7.39]{\Ttop};
\addplot[tr,c38] table[x=t,y expr=\thisrow{c38}/100+7.61]{\Ttop};
\addplot[tr,c39] table[x=t,y expr=\thisrow{c39}/100+7.80]{\Ttop};
\addplot[tr,c40] table[x=t,y expr=\thisrow{c40}/100+8.03]{\Ttop};
\addplot[tr,c41] table[x=t,y expr=\thisrow{c41}/100+8.20]{\Ttop};
\addplot[tr,c42] table[x=t,y expr=\thisrow{c42}/100+8.40]{\Ttop};
\addplot[tr,c43] table[x=t,y expr=\thisrow{c43}/100+8.61]{\Ttop};
\addplot[tr,c44] table[x=t,y expr=\thisrow{c44}/100+8.80]{\Ttop};
\end{axis}

\begin{axis}[
  at={(1390pt,33.8pt)}, anchor=south west,
  width=37.2pt, height=1001.6pt, scale only axis,
  xmin=0, xmax=1, ymin=-0.19, ymax=10,
  xtick={0.19,0.5,0.81}, xticklabels={},
  ytick={0,2,4,6,8,10}, yticklabels={},
  tick align=outside, xtick pos=left, ytick pos=left,
  major tick length=4.4pt,
  major tick style={black, line width=0.9pt},
  axis line style={line width=0.9pt},
  clip=false,
  dot/.style={only marks, mark=*, mark size=4.2pt},
]
\addplot[dot,c0] coordinates {(0.538,0)};
\addplot[dot,c1] coordinates {(0.538,0.2)};
\addplot[dot,c2] coordinates {(0.538,0.4)};
\addplot[dot,c3] coordinates {(0.545,0.6)};
\addplot[dot,c4] coordinates {(0.558,0.8)};
\addplot[dot,c5] coordinates {(0.577,1.0)};
\addplot[dot,c6] coordinates {(0.577,1.2)};
\addplot[dot,c7] coordinates {(0.577,1.4)};
\addplot[dot,c8] coordinates {(0.596,1.6)};
\addplot[dot,c9] coordinates {(0.603,1.8)};
\addplot[dot,c10] coordinates {(0.603,2.0)};
\addplot[dot,c11] coordinates {(0.616,2.2)};
\addplot[dot,c12] coordinates {(0.616,2.4)};
\addplot[dot,c13] coordinates {(0.629,2.6)};
\addplot[dot,c14] coordinates {(0.635,2.8)};
\addplot[dot,c15] coordinates {(0.654,3.0)};
\addplot[dot,c16] coordinates {(0.654,3.2)};
\addplot[dot,c17] coordinates {(0.674,3.4)};
\addplot[dot,c18] coordinates {(0.693,3.6)};
\addplot[dot,c19] coordinates {(0.712,3.8)};
\addplot[dot,c20] coordinates {(0.732,4.0)};
\addplot[dot,c21] coordinates {(0.848,4.2)};
\addplot[dot,c22] coordinates {(0.829,4.4)};
\addplot[dot,c23] coordinates {(0.790,4.6)};
\addplot[dot,c24] coordinates {(0.809,4.8)};
\addplot[dot,c25] coordinates {(0.822,5.0)};
\addplot[dot,c26] coordinates {(0.829,5.2)};
\addplot[dot,c27] coordinates {(0.848,5.4)};
\addplot[dot,c28] coordinates {(0.848,5.6)};
\addplot[dot,c29] coordinates {(0.809,5.8)};
\addplot[dot,c30] coordinates {(0.790,6.0)};
\addplot[dot,c31] coordinates {(0.732,6.2)};
\addplot[dot,c32] coordinates {(0.674,6.4)};
\addplot[dot,c33] coordinates {(0.596,6.6)};
\addplot[dot,c34] coordinates {(0.538,6.8)};
\addplot[dot,c35] coordinates {(0.519,7.0)};
\addplot[dot,c36] coordinates {(0.500,7.2)};
\addplot[dot,c37] coordinates {(0.500,7.4)};
\addplot[dot,c38] coordinates {(0.500,7.6)};
\addplot[dot,c39] coordinates {(0.500,7.8)};
\addplot[dot,c40] coordinates {(0.519,8.0)};
\addplot[dot,c41] coordinates {(0.500,8.2)};
\addplot[dot,c42] coordinates {(0.500,8.4)};
\addplot[dot,c43] coordinates {(0.500,8.6)};
\addplot[dot,c44] coordinates {(0.493,8.8)};
\addplot[black, opacity=0.6, line width=1pt] coordinates {
(0.538,0) (0.538,0.2) (0.538,0.4) (0.545,0.6) (0.558,0.8) (0.577,1.0) (0.577,1.2) (0.577,1.4) (0.596,1.6) (0.603,1.8)
(0.603,2.0) (0.616,2.2) (0.616,2.4) (0.629,2.6) (0.635,2.8) (0.654,3.0) (0.654,3.2) (0.674,3.4) (0.693,3.6) (0.712,3.8)
(0.732,4.0) (0.848,4.2) (0.829,4.4) (0.790,4.6) (0.809,4.8) (0.822,5.0) (0.829,5.2) (0.848,5.4) (0.848,5.6) (0.809,5.8)
(0.790,6.0) (0.732,6.2) (0.674,6.4) (0.596,6.6) (0.538,6.8) (0.519,7.0) (0.500,7.2) (0.500,7.4) (0.500,7.6) (0.500,7.8)
(0.519,8.0) (0.500,8.2) (0.500,8.4) (0.500,8.6) (0.493,8.8)};
\end{axis}
\end{tikzpicture}
\end{document}
